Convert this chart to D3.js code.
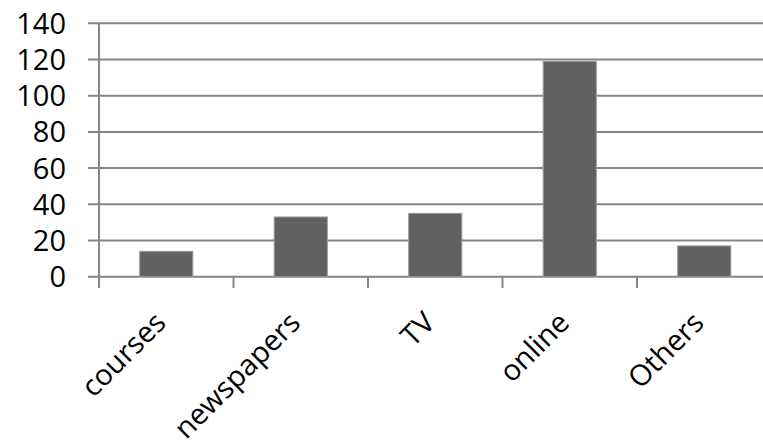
<!DOCTYPE html>
<html>
<head>
<meta charset="utf-8">
<script src="https://cdn.jsdelivr.net/npm/d3@7"></script>
<style>
body { margin: 0; background: #fff; }
text { font-family: "Open Sans", sans-serif; fill: #000; }
</style>
</head>
<body>
<div id="myDiv"></div>
<script>
var categories = ["courses", "newspapers", "TV", "online", "Others"];
var values = [14, 33, 35, 119, 17];
var yTicks = [0, 20, 40, 60, 80, 100, 120, 140];

var svgContainer = d3.select("#myDiv").append("svg")
    .attr("width", 763)
    .attr("height", 443);

var x = d3.scaleBand()
    .domain(categories)
    .range([99, 771.5])
    .paddingInner(0.605)
    .paddingOuter(0.3025);

var xTickScale = d3.scaleBand().domain(categories).range([99, 771.5]);

var y = d3.scaleLinear()
    .domain([0, 140])
    .range([276.7, 23.3]);

// gridlines
svgContainer.selectAll(".grid")
    .data(yTicks)
    .enter()
    .append("line")
    .attr("x1", 88)
    .attr("x2", 763)
    .attr("y1", function(d){ return y(d); })
    .attr("y2", function(d){ return y(d); })
    .attr("stroke", "#868686")
    .attr("stroke-width", 2);

// y axis line
svgContainer.append("line")
    .attr("x1", 99).attr("x2", 99)
    .attr("y1", y(140)).attr("y2", 288)
    .attr("stroke", "#868686")
    .attr("stroke-width", 2);

// x ticks
svgContainer.selectAll(".xtick")
    .data(categories.slice(1))
    .enter()
    .append("line")
    .attr("x1", function(d){ return xTickScale(d); })
    .attr("x2", function(d){ return xTickScale(d); })
    .attr("y1", y(0))
    .attr("y2", 288)
    .attr("stroke", "#868686")
    .attr("stroke-width", 2);

// bars
svgContainer.selectAll(".bar")
    .data(values)
    .enter()
    .append("rect")
    .attr("x", function(d, i){ return x(categories[i]); })
    .attr("y", function(d){ return y(d); })
    .attr("width", x.bandwidth())
    .attr("height", function(d){ return y(0) - y(d); })
    .attr("fill", "#616161")
    .attr("stroke", "#9a9a9a")
    .attr("stroke-width", 1);

// y labels
svgContainer.selectAll(".ylab")
    .data(yTicks)
    .enter()
    .append("text")
    .attr("x", 66)
    .attr("y", function(d){ return y(d); })
    .attr("dy", "0.36em")
    .attr("text-anchor", "end")
    .style("font-size", "29px")
    .text(function(d){ return d; });

// x labels
svgContainer.selectAll(".xlab")
    .data(categories)
    .enter()
    .append("text")
    .attr("text-anchor", "end")
    .style("font-size", "29px")
    .attr("transform", function(d){
        var cx = xTickScale(d) + xTickScale.bandwidth() / 2 - 6;
        return "translate(" + cx + ",317) rotate(-45)";
    })
    .attr("dy", "0.36em")
    .text(function(d){ return d; });
</script>
</body>
</html>
